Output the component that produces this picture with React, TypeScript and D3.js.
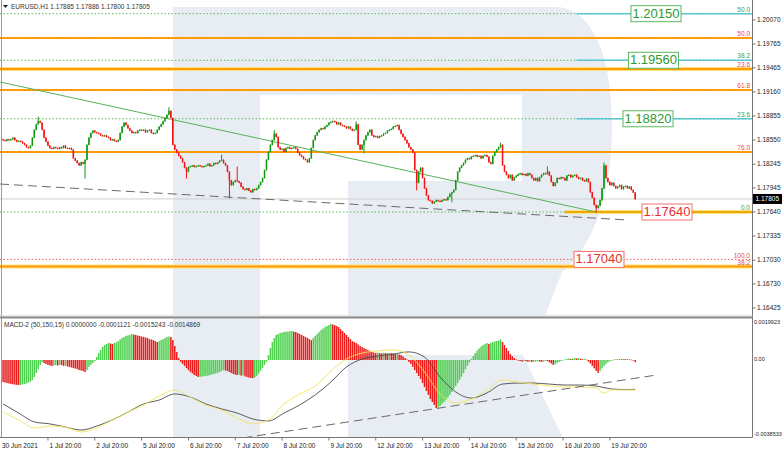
import React from "react";
import * as d3 from "d3";

// ---------- DATA ----------
const closes = [
  1.1855,1.1854,1.1856,1.1855,1.1856,1.1858,1.1855,1.1853,1.1854,
  1.1853,1.1851,1.1849,1.1846,1.1845,1.1848,1.1858,1.1868,1.1875,
  1.1879,1.1877,1.1868,1.1858,1.1853,
  1.1848,1.1845,1.1844,
  1.1846,1.1845,1.1844,1.1846,1.1845,1.1848,1.1845,1.1844,1.1845,1.1843,
  1.1832,1.1829,1.1826,1.1823,1.1827,1.1825,
  1.1830,1.1849,
  1.1858,1.1864,1.1867,1.1865,1.1864,
  1.1863,1.1861,1.1860,1.1861,1.1859,
  1.1858,1.1855,1.1856,1.1854,1.1853,1.1855,
  1.1864,1.1872,1.1877,1.1874,1.1870,
  1.1867,1.1864,1.1865,1.1864,1.1867,1.1868,
  1.1867,1.1868,1.1865,1.1867,1.1868,
  1.1864,1.1863,1.1864,
  1.1868,1.1872,1.1875,1.1879,1.1883,1.1887,
  1.1892,1.1883,1.1849,
  1.1843,1.1839,1.1835,1.1832,1.1827,1.1820,1.1815,
  1.1821,1.1822,1.1823,1.1821,1.1822,1.1823,1.1822,1.1821,1.1822,1.1823,1.1825,1.1822,1.1823,
  1.1826,1.1825,1.1827,1.1829,1.1830,1.1826,1.1823,
  1.1815,1.1804,1.1798,
  1.1802,1.1804,1.1803,1.1801,
  1.1796,1.1793,1.1792,1.1794,1.1791,1.1789,1.1793,1.1792,
  1.1794,1.1798,1.1802,1.1807,
  1.1817,1.1830,1.1840,1.1849,1.1855,
  1.1863,1.1859,
  1.1846,1.1843,1.1844,1.1840,1.1845,
  1.1846,1.1844,1.1845,1.1846,1.1844,
  1.1839,1.1836,1.1834,1.1831,1.1830,1.1827,1.1832,
  1.1845,1.1855,
  1.1861,1.1865,1.1868,1.1870,1.1869,1.1872,1.1874,
  1.1877,1.1878,1.1879,1.1878,1.1875,1.1877,
  1.1874,1.1873,1.1872,1.1870,1.1872,1.1869,1.1867,1.1868,1.1875,
  1.1849,1.1843,
  1.1849,1.1855,1.1861,1.1865,1.1868,
  1.1861,1.1859,1.1860,1.1858,1.1860,
  1.1861,1.1863,1.1864,1.1867,1.1868,1.1869,1.1872,1.1873,1.1874,
  1.1868,1.1863,1.1859,1.1855,1.1851,
  1.1846,1.1843,1.1839,
  1.1817,1.1801,
  1.1815,1.1820,1.1807,
  1.1794,1.1785,1.1779,
  1.1778,1.1775,1.1777,1.1779,1.1778,1.1777,1.1779,1.1780,1.1779,
  1.1783,1.1787,1.1789,1.1792,
  1.1804,1.1815,1.1820,1.1823,1.1826,
  1.1830,1.1832,1.1831,1.1834,
  1.1835,1.1836,1.1834,1.1835,1.1832,1.1835,1.1836,1.1834,
  1.1827,1.1825,
  1.1835,1.1840,1.1843,1.1846,1.1849,
  1.1823,1.1815,1.1811,
  1.1807,1.1811,1.1804,1.1808,1.1810,
  1.1812,1.1813,1.1811,1.1812,1.1810,1.1813,1.1811,
  1.1807,1.1804,1.1807,1.1803,1.1808,
  1.1811,1.1813,1.1812,1.1815,1.1810,
  1.1802,1.1797,1.1801,
  1.1807,1.1806,1.1808,1.1807,1.1804,1.1810,
  1.1811,1.1808,1.1810,1.1811,1.1808,
  1.1806,1.1807,1.1804,1.1803,1.1806,1.1802,
  1.1789,1.1782,
  1.1773,1.1769,1.1772,
  1.1779,1.1794,
  1.1823,
  1.1807,1.1802,1.1798,1.1801,
  1.1797,1.1794,1.1796,1.1798,1.1793,1.1796,1.1797,1.1794,1.1796,
  1.1792,1.17885,1.17805,
];
const firstOpen = 1.1856;
const wickHighs = [
  [18, 1.1884], [85, 1.1896], [112, 1.1836], [120, 1.1821], [139, 1.1867],
  [181, 1.1878], [255, 1.1851], [279, 1.1821], [308, 1.1826], [324, 1.17886],
];
const wickLows = [
  [42, 1.1807], [94, 1.1807], [116, 1.1782], [185, 1.1839], [212, 1.1792],
  [230, 1.1777], [304, 1.1764], [324, 1.178],
];

const histogram = [
  -112e-5,-114e-5,-117e-5,-119e-5,-122e-5,-123e-5,-125e-5,-126e-5,-127e-5,
  -126e-5,-124e-5,-122e-5,-119e-5,-114e-5,-109e-5,-101e-5,
  -86e-5,-66e-5,-46e-5,-25e-5,-10e-5,
  -15e-5,-20e-5,-25e-5,-28e-5,-30e-5,
  -28e-5,-25e-5,-28e-5,-25e-5,-26e-5,-30e-5,-29e-5,
  -33e-5,-35e-5,-38e-5,-41e-5,-43e-5,-46e-5,-51e-5,-53e-5,-56e-5,-61e-5,
  -51e-5,-35e-5,-25e-5,-15e-5,-5e-5,
  15e-5,35e-5,
  51e-5,66e-5,76e-5,81e-5,86e-5,
  84e-5,81e-5,86e-5,89e-5,
  96e-5,104e-5,112e-5,117e-5,122e-5,124e-5,127e-5,
  132e-5,
  129e-5,127e-5,124e-5,122e-5,119e-5,117e-5,114e-5,112e-5,106e-5,104e-5,101e-5,96e-5,91e-5,
  96e-5,101e-5,106e-5,112e-5,117e-5,
  119e-5,117e-5,
  101e-5,71e-5,41e-5,10e-5,
  -10e-5,-20e-5,-30e-5,-41e-5,-51e-5,-61e-5,-68e-5,-76e-5,-81e-5,-86e-5,
  -85e-5,-84e-5,-82e-5,-81e-5,-79e-5,-76e-5,-74e-5,-71e-5,-68e-5,-65e-5,-61e-5,-56e-5,-51e-5,
  -53e-5,-56e-5,-61e-5,-66e-5,-71e-5,-74e-5,-76e-5,-75e-5,-79e-5,-78e-5,-83e-5,-86e-5,-89e-5,-91e-5,-92e-5,
  -88e-5,-80e-5,-68e-5,-55e-5,-40e-5,-25e-5,-10e-5,
  25e-5,61e-5,91e-5,112e-5,127e-5,132e-5,137e-5,139e-5,142e-5,143e-5,145e-5,146e-5,147e-5,
  144e-5,142e-5,137e-5,132e-5,127e-5,122e-5,117e-5,112e-5,106e-5,101e-5,
  112e-5,122e-5,132e-5,142e-5,152e-5,160e-5,167e-5,172e-5,177e-5,183e-5,
  180e-5,177e-5,172e-5,167e-5,157e-5,147e-5,137e-5,127e-5,117e-5,106e-5,96e-5,91e-5,86e-5,
  79e-5,71e-5,66e-5,61e-5,56e-5,51e-5,46e-5,41e-5,
  38e-5,35e-5,38e-5,35e-5,34e-5,37e-5,35e-5,33e-5,35e-5,34e-5,33e-5,30e-5,31e-5,28e-5,25e-5,
  18e-5,10e-5,3e-5,
  -10e-5,-20e-5,-35e-5,-51e-5,-66e-5,-81e-5,-96e-5,-117e-5,-137e-5,-157e-5,-177e-5,-198e-5,-213e-5,-228e-5,-243e-5,
  -241e-5,-233e-5,-223e-5,-213e-5,-203e-5,-190e-5,-177e-5,-162e-5,-147e-5,-132e-5,-117e-5,-101e-5,-84e-5,-66e-5,-48e-5,-30e-5,-13e-5,
  5e-5,20e-5,35e-5,48e-5,58e-5,68e-5,76e-5,81e-5,86e-5,
  81e-5,
  86e-5,91e-5,94e-5,96e-5,99e-5,104e-5,
  91e-5,76e-5,61e-5,46e-5,30e-5,20e-5,10e-5,3e-5,
  -3e-5,-5e-5,-8e-5,-5e-5,-6e-5,-10e-5,-8e-5,-10e-5,-9e-5,-8e-5,-5e-5,-8e-5,-10e-5,-8e-5,-5e-5,-6e-5,-12e-5,-18e-5,-25e-5,-22e-5,-15e-5,-10e-5,-5e-5,-3e-5,
  3e-5,5e-5,8e-5,5e-5,8e-5,10e-5,8e-5,10e-5,6e-5,4e-5,6e-5,2e-5,
  -8e-5,-18e-5,-30e-5,-42e-5,-55e-5,-66e-5,
  -55e-5,-42e-5,-30e-5,-20e-5,-12e-5,-6e-5,-2e-5,
  2e-5,4e-5,3e-5,5e-5,4e-5,6e-5,5e-5,3e-5,4e-5,2e-5,0,-11.21e-5,
];

const lineIdx = [0,8,16,24,32,40,48,56,64,72,80,88,96,104,112,120,128,136,144,152,160,168,176,184,192,200,208,216,224,232,240,248,256,264,272,280,288,296,304,308,312,320,324];
const macdMain = [
  -264e-5,-304e-5,-345e-5,-335e-5,-340e-5,-365e-5,-345e-5,-304e-5,-264e-5,-228e-5,-183e-5,-152e-5,-188e-5,-228e-5,-254e-5,-294e-5,-324e-5,-304e-5,-223e-5,-172e-5,-132e-5,-56e-5,5e-5,35e-5,46e-5,51e-5,25e-5,-61e-5,-172e-5,-218e-5,-198e-5,-152e-5,-101e-5,-112e-5,-122e-5,-132e-5,-137e-5,-137e-5,-142e-5,-167e-5,-152e-5,-152e-5,-152.43e-5,
];
const macdSignal = [
  -223e-5,-269e-5,-314e-5,-324e-5,-340e-5,-355e-5,-335e-5,-304e-5,-264e-5,-223e-5,-203e-5,-172e-5,-188e-5,-223e-5,-248e-5,-269e-5,-299e-5,-309e-5,-269e-5,-228e-5,-177e-5,-112e-5,-35e-5,5e-5,20e-5,30e-5,41e-5,15e-5,-86e-5,-162e-5,-193e-5,-167e-5,-122e-5,-117e-5,-117e-5,-122e-5,-127e-5,-127e-5,-132e-5,-140e-5,-147e-5,-150e-5,-148.69e-5,
];

const priceTicks = ["1.20070","1.19765","1.19465","1.19160","1.18855","1.18550","1.18245","1.17945","1.17640","1.17335","1.17030","1.16730","1.16425"];
const macdTicks = ["0.0019923", "0.00", "-0.0038533"];
const timeTickIdx = [0, 23, 47, 71, 95, 119, 143, 167, 191, 215, 239, 263, 287, 311];
const timeTickLabels = ["30 Jun 2021","1 Jul 20:00","2 Jul 20:00","5 Jul 20:00","6 Jul 20:00","7 Jul 20:00","8 Jul 20:00","9 Jul 20:00","12 Jul 20:00","13 Jul 20:00","14 Jul 20:00","15 Jul 20:00","16 Jul 20:00","19 Jul 20:00"];

const fibPrices = [1.2015, 1.19842, 1.1956, 1.1945, 1.19184, 1.1882, 1.18399, 1.1764, 1.1704, 1.1695];
const fibLabels = ["50.0", "50.0", "38.2", "23.6", "61.8", "23.6", "76.0", "0.0", "100.0", "38.2"];
const fibKinds = ["green", "orange", "green", "orangeThick", "orange", "green", "orange", "zero", "red", "orangeThick"];
const fibStartIdx = 294; // start bar of cyan target lines
const zeroStartIdx = 288;

const targetPrices = [1.2015, 1.1956, 1.1882, 1.1764, 1.1704];
const targetLabels = ["1.20150", "1.19560", "1.18820", "1.17640", "1.17040"];
const targetKinds = ["green", "green", "green", "red", "red"];

const greenTrend = [[-1.5, 1.19285], [304, 1.1764]];
const dashTrend = [[-1.6, 1.17994], [320, 1.17539]];
const macdTrend = [[123, -0.00395], [335, -0.00076]];

const currentPrice = 1.17805;
const headerText = "EURUSD,H1  1.17885 1.17886 1.17800 1.17805";
const macdHeader = "MACD-2 (50,150,15) 0.0000000 -0.0001121 -0.0015243 -0.0014869";

// ---------- LAYOUT ----------
const W = 782, H = 451;
const PR = 752.5; // right edge of plot
const MAIN_BOTTOM = 315;
const MACD_TOP = 319;
const MACD_BOTTOM = 437.5;
const targetBoxX = [656, 653.5, 648, 667, 599];
const FONT = "'Liberation Sans', Arial, sans-serif";

export default function App() {
  const x = d3.scaleLinear().domain([0, 324]).range([3.1, 635.2]);
  const yP = d3.scaleLinear().domain([1.16425, 1.2007]).range([308, 20]);
  const yM = d3.scaleLinear().domain([-0.0038533, 0.0019923]).range([436, 320.7]);

  const hiMap = new Map(wickHighs.map((d) => [d[0], d[1]]));
  const loMap = new Map(wickLows.map((d) => [d[0], d[1]]));

  const candles = closes.map((c, i) => {
    const o = i === 0 ? firstOpen : closes[i - 1];
    const hi = Math.max(o, c, hiMap.has(i) ? hiMap.get(i) : -Infinity);
    const lo = Math.min(o, c, loMap.has(i) ? loMap.get(i) : Infinity);
    return { i, o, c, hi, lo };
  });

  const lineGen = d3
    .line()
    .x((d) => x(d[0]))
    .y((d) => yM(d[1]))
    .curve(d3.curveMonotoneX);
  const mainPath = lineGen(lineIdx.map((k, j) => [k, macdMain[j]]));
  const sigPath = lineGen(lineIdx.map((k, j) => [k, macdSignal[j]]));

  const wmColor = "#e8edf4";

  return (
    <svg
      width={W}
      height={H}
      viewBox={`0 0 ${W} ${H}`}
      style={{ position: "absolute", left: 0, top: 0, background: "#fff", fontFamily: FONT }}
    >
      <defs>
        <clipPath id="mainClip">
          <rect x={0} y={0} width={PR} height={MAIN_BOTTOM} />
        </clipPath>
        <clipPath id="macdClip">
          <rect x={0} y={MACD_TOP} width={PR} height={MACD_BOTTOM - MACD_TOP} />
        </clipPath>
      </defs>
      <rect x={0} y={0} width={W} height={H} fill="#fff" />

      {/* watermark */}
      <g clipPath="url(#mainClip)">
        <path
          fillRule="evenodd"
          fill={wmColor}
          d="M173,7 H555 C592,7 612,55 612,125 C612,195 594,245 562,272 L545,316 H348 V181 H260 V316 H173 Z M260,95 H522 V181 H260 Z"
        />
      </g>
      <g clipPath="url(#macdClip)">
        <rect x={173} y={MACD_TOP} width={87} height={MACD_BOTTOM - MACD_TOP} fill={wmColor} />
        <path fill={wmColor} d="M348,355 H523 L563,438 H348 Z" />
      </g>

      {/* main panel */}
      <g clipPath="url(#mainClip)">
        <line x1={0} x2={PR} y1={yP(currentPrice)} y2={yP(currentPrice)} stroke="#cfcfcf" strokeWidth={1} />

        {fibPrices.map((p, k) => {
          const y = yP(p);
          const kind = fibKinds[k];
          if (kind === "green") {
            return (
              <g key={k}>
                <line x1={0} x2={PR} y1={y} y2={y} stroke="#5cb85c" strokeWidth={1} strokeDasharray="1.5,2" />
                <line x1={x(fibStartIdx)} x2={PR} y1={y} y2={y} stroke="#5fcdf0" strokeWidth={1.6} />
                <line x1={x(fibStartIdx)} x2={PR} y1={y} y2={y} stroke="#59b86a" strokeWidth={0.8} strokeDasharray="1.5,2" />
              </g>
            );
          }
          if (kind === "orange") {
            return (
              <g key={k}>
                <line x1={0} x2={PR} y1={y} y2={y} stroke="#ffa500" strokeWidth={2} />
                <line x1={0} x2={PR} y1={y} y2={y} stroke="#ff6a2a" strokeWidth={0.8} strokeDasharray="1.5,2" />
              </g>
            );
          }
          if (kind === "orangeThick") {
            return (
              <g key={k}>
                <line x1={0} x2={PR} y1={y} y2={y} stroke="#ffe27a" strokeWidth={4} />
                <line x1={0} x2={PR} y1={y} y2={y} stroke="#ffa500" strokeWidth={2} />
                <line x1={0} x2={PR} y1={y} y2={y} stroke="#ff6a2a" strokeWidth={0.8} strokeDasharray="1.5,2" />
              </g>
            );
          }
          if (kind === "zero") {
            return (
              <g key={k}>
                <line x1={0} x2={PR} y1={y} y2={y} stroke="#5cb85c" strokeWidth={1} strokeDasharray="1.5,2" />
                <line x1={x(zeroStartIdx)} x2={PR} y1={y} y2={y} stroke="#ffe27a" strokeWidth={4} />
                <line x1={x(zeroStartIdx)} x2={PR} y1={y} y2={y} stroke="#ffa500" strokeWidth={2} />
                <line x1={x(zeroStartIdx)} x2={PR} y1={y} y2={y} stroke="#8cc84b" strokeWidth={0.8} strokeDasharray="1.5,2" />
              </g>
            );
          }
          return (
            <line key={k} x1={0} x2={PR} y1={y} y2={y} stroke="#f06060" strokeWidth={1} strokeDasharray="1.5,2" />
          );
        })}

        <line
          x1={x(greenTrend[0][0])} y1={yP(greenTrend[0][1])}
          x2={x(greenTrend[1][0])} y2={yP(greenTrend[1][1])}
          stroke="#58b158" strokeWidth={1}
        />
        <line
          x1={x(dashTrend[0][0])} y1={yP(dashTrend[0][1])}
          x2={x(dashTrend[1][0])} y2={yP(dashTrend[1][1])}
          stroke="#6a6a6a" strokeWidth={1} strokeDasharray="9,5"
        />

        {candles.map((d) => {
          const cx = x(d.i);
          const up = d.c >= d.o;
          const col = up ? "#0f9a0f" : "#f01414";
          const top = yP(Math.max(d.o, d.c));
          const bot = yP(Math.min(d.o, d.c));
          return (
            <g key={d.i}>
              <line x1={cx} x2={cx} y1={yP(d.hi) - 0.5} y2={yP(d.lo) + 0.5} stroke={col} strokeWidth={1} />
              <rect x={cx - 0.75} y={top} width={1.5} height={Math.max(1, bot - top)} fill={col} />
            </g>
          );
        })}

        {fibPrices.map((p, k) => (
          <text
            key={k}
            x={750}
            y={yP(p) - 1.8}
            textAnchor="end"
            fontSize={6.5}
            fill={fibKinds[k] === "green" || fibKinds[k] === "zero" ? "#4a9e4a" : "#f04848"}
          >
            {fibLabels[k]}
          </text>
        ))}

        {targetPrices.map((p, k) => {
          const cy = yP(p);
          const col = targetKinds[k] === "green" ? "#2e9a2e" : "#e83030";
          const bcol = targetKinds[k] === "green" ? "#5cb85c" : "#f07070";
          return (
            <g key={k}>
              <rect x={targetBoxX[k] - 25} y={cy - 8} width={50} height={16} fill="#fff" stroke={bcol} strokeWidth={1} />
              <text x={targetBoxX[k]} y={cy + 0.5} textAnchor="middle" dominantBaseline="middle" fontSize={13} fill={col}>
                {targetLabels[k]}
              </text>
            </g>
          );
        })}
      </g>

      <path d="M3,5 L8,5 L5.5,8 Z" fill="#222" />
      <text x={11} y={9} fontSize={6.5} fill="#333">{headerText}</text>

      <g clipPath="url(#macdClip)">
        {histogram.map((v, i) => {
          const green = i > 0 && v > histogram[i - 1];
          const y0 = yM(0);
          const yv = yM(v);
          return (
            <rect
              key={i}
              x={x(i) - 0.75}
              width={1.5}
              y={Math.min(y0, yv)}
              height={Math.max(0.6, Math.abs(yv - y0))}
              fill={green ? "#4fcf4f" : "#ea1c1c"}
            />
          );
        })}
        <path d={sigPath} fill="none" stroke="#4a4a4a" strokeWidth={0.9} />
        <path d={mainPath} fill="none" stroke="#f3e35a" strokeWidth={0.9} />
        <line
          x1={x(macdTrend[0][0])} y1={yM(macdTrend[0][1])}
          x2={x(macdTrend[1][0])} y2={yM(macdTrend[1][1])}
          stroke="#6a6a6a" strokeWidth={1} strokeDasharray="9,5"
        />
      </g>
      <text x={4} y={327} fontSize={6.5} fill="#333">{macdHeader}</text>

      <line x1={1.5} x2={1.5} y1={0} y2={MACD_BOTTOM} stroke="#9a9a9a" strokeWidth={1} />
      <line x1={PR} x2={PR} y1={0} y2={MACD_BOTTOM} stroke="#777" strokeWidth={1} />
      <rect x={0} y={315.5} width={PR} height={1} fill="#d0d0d0" />
      <rect x={0} y={316.5} width={PR} height={2} fill="#8c8c8c" />
      <line x1={0} x2={PR} y1={MACD_BOTTOM} y2={MACD_BOTTOM} stroke="#777" strokeWidth={1} />

      {priceTicks.map((t) => {
        const y = yP(+t);
        return (
          <g key={t}>
            <line x1={PR} x2={PR + 3} y1={y} y2={y} stroke="#555" strokeWidth={0.8} />
            <text x={757} y={y} dominantBaseline="middle" fontSize={6.5} fill="#222">{t}</text>
          </g>
        );
      })}
      <rect x={753} y={yP(currentPrice) - 5} width={29} height={10} fill="#000" />
      <text x={755.5} y={yP(currentPrice) + 0.3} dominantBaseline="middle" fontSize={6.5} fill="#fff">
        {currentPrice.toFixed(5)}
      </text>

      {macdTicks.map((t) => {
        const y = Math.min(435, Math.max(323, yM(+t)));
        return (
          <text key={t} x={754} y={y} dominantBaseline="middle" fontSize={5.5} fill="#222">{t}</text>
        );
      })}

      {timeTickIdx.map((i, k) => (
        <g key={i}>
          {k > 0 && <line x1={x(i)} x2={x(i)} y1={MACD_BOTTOM} y2={MACD_BOTTOM + 3} stroke="#555" strokeWidth={0.8} />}
          <text x={k === 0 ? 2 : x(i) + 1.5} y={446} dominantBaseline="middle" fontSize={6.5} fill="#222">
            {timeTickLabels[k]}
          </text>
        </g>
      ))}
    </svg>
  );
}
